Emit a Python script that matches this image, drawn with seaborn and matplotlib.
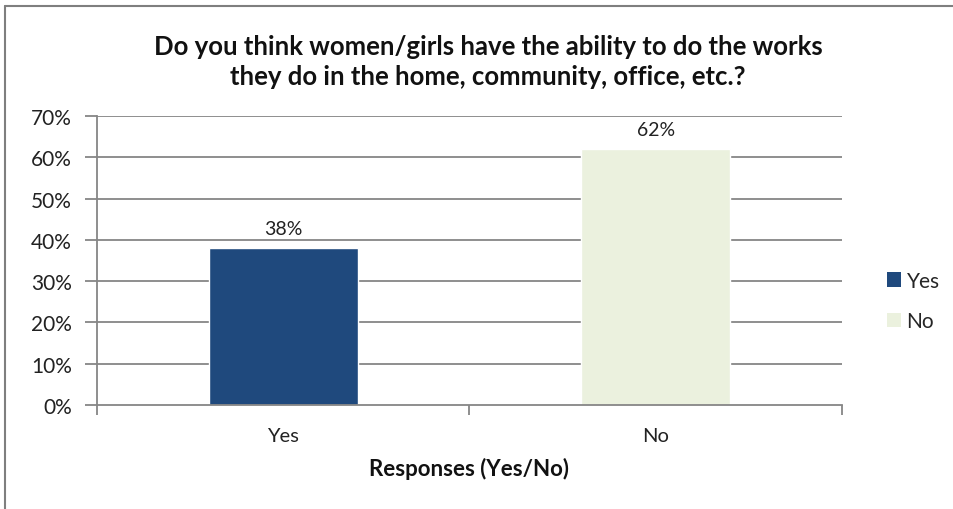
import matplotlib
matplotlib.use("Agg")
import matplotlib.pyplot as plt
import matplotlib.patches as mpatches
from matplotlib.lines import Line2D
from matplotlib.ticker import FixedLocator, PercentFormatter
import pandas as pd
import seaborn as sns

# Survey responses
categories = ["Yes", "No"]
shares = [38, 62]
bar_colors = ["#1F497D", "#EBF1DE"]
y_ticks = [0, 10, 20, 30, 40, 50, 60, 70]

title = ("Do you think women/girls have the ability to do the works\n"
         "they do in the home, community, office, etc.?")
x_label = "Responses (Yes/No)"

sns.set_theme(style="white")
plt.rcParams["font.family"] = ["Lato", "DejaVu Sans"]

df = pd.DataFrame({"Response": categories, "Share": shares})

W, H = 954, 510
fig = plt.figure(figsize=(W / 100, H / 100), dpi=100)
ax = fig.add_axes([97 / W, (H - 406) / H, (842 - 97) / W, (406 - 117) / H])

grid_color = "#868686"
for t in y_ticks[1:]:
    ax.axhline(t, color=grid_color, lw=1.3, zorder=0)

sns.barplot(data=df, x="Response", y="Share", hue="Response",
            palette=dict(zip(categories, bar_colors)), width=0.4,
            order=categories, hue_order=categories, legend=False,
            saturation=1, ax=ax, zorder=2)

# value labels above bars
for i, v in enumerate(shares):
    ax.text(i, v + 2.6, f"{v}%", ha="center", va="bottom", fontsize=14,
            color="#222222")

ax.set_xlim(-0.5, len(categories) - 0.5)
ax.set_ylim(0, 70)
ax.yaxis.set_major_locator(FixedLocator(y_ticks))
ax.yaxis.set_major_formatter(PercentFormatter(decimals=0))

for s in ["top", "right"]:
    ax.spines[s].set_visible(False)
for s in ["left", "bottom"]:
    ax.spines[s].set_color(grid_color)
    ax.spines[s].set_linewidth(1.3)

ax.tick_params(axis="y", which="major", left=True, length=9, width=1.3,
               color=grid_color, labelsize=15, labelcolor="#222222", pad=9)
ax.tick_params(axis="x", which="major", bottom=False, labelsize=14.5,
               labelcolor="#222222", pad=16)
ax.set_xticks([-0.5, 0.5, 1.5], minor=True)
ax.tick_params(axis="x", which="minor", bottom=True, length=7, width=1.3,
               color=grid_color)
for lbl in ax.get_xticklabels():
    lbl.set_va("center")

ax.set_xlabel(x_label, fontsize=16, fontweight="bold", labelpad=9,
              color="#111111")
ax.set_ylabel("")

fig.text(488 / W, 1 - 62 / H, title, ha="center", va="center",
         fontsize=18.5, fontweight="bold", linespacing=1.3, color="#111111")

handles = [mpatches.Patch(facecolor=c, edgecolor="none", label=l)
           for c, l in zip(bar_colors, categories)]
fig.legend(handles=handles, loc="center left",
           bbox_to_anchor=(868 / W, 1 - 302 / H), frameon=False,
           fontsize=15, handlelength=0.7, handleheight=0.7,
           handletextpad=0.25, labelspacing=1.0)

# chart border
fig.add_artist(Line2D([5 / W, 5 / W], [0, 1 - 7 / H], transform=fig.transFigure,
                      color="#7f7f7f", lw=1.5))
fig.add_artist(Line2D([5 / W, 1], [1 - 7 / H, 1 - 7 / H], transform=fig.transFigure,
                      color="#7f7f7f", lw=1.5))

fig.savefig("out.png", dpi=100, facecolor="white")
